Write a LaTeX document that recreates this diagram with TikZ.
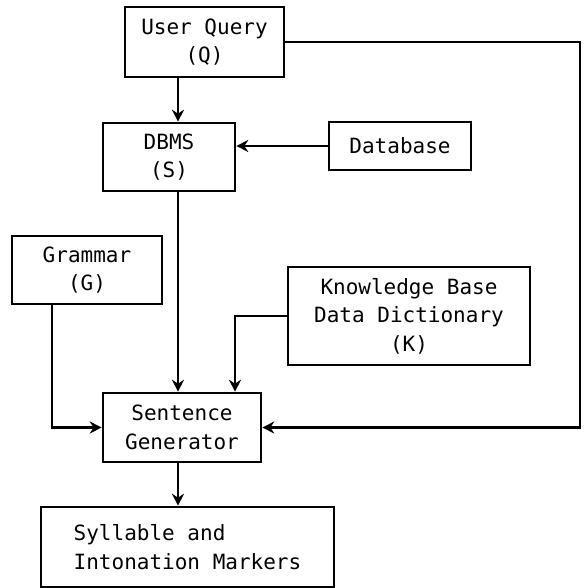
\documentclass[tikz,border=0pt]{standalone}
\usepackage{fontspec}
\setmonofont{DejaVu Sans Mono}
\usetikzlibrary{arrows.meta}

\begin{document}
\begin{tikzpicture}[x=1pt,y=-1pt,line width=2.6pt,>={Stealth[length=12pt,width=12pt,inset=4pt]}]
\useasboundingbox (0,0) rectangle (587,588);
\tikzstyle{blockNode} =
[
	shape			= rectangle,		% shape
	draw			= black,			% colour of the border
	line width		= 2.6pt,			% thickness of the border
	inner sep		= 0pt,				% size comes from minimum width/height
	font			= \ttfamily\fontsize{21}{28.5}\selectfont,	% typewriter text
	align			= center			% centred lines
]
\node (query) [blockNode, minimum width=159pt, minimum height=70pt] at (204.5,42) {User Query\\(Q)};
\node (dbms) [blockNode, minimum width=132pt, minimum height=68pt] at (169,157) {DBMS\\(S)};
\node (database) [blockNode, minimum width=142pt, minimum height=48pt] at (400,146) {Database};
\node (grammar) [blockNode, minimum width=150pt, minimum height=68pt] at (87,270) {Grammar\\(G)};
\node (knowledge) [blockNode, minimum width=242pt, minimum height=98pt] at (409,316) {Knowledge Base\\Data Dictionary\\(K)};
\node (generator) [blockNode, minimum width=158pt, minimum height=69pt] at (182,427.5) {Sentence\\Generator};
\node (markers) [blockNode, minimum width=293pt, minimum height=80pt, align=left] at (187.5,547) {Syllable and\\Intonation Markers};
% vertical lines and feedback loop
\coordinate (spine) at (178,0);
\coordinate (grammarDrop) at (52,0);
\coordinate (kbDrop) at (235,0);
\coordinate (rightEdge) at (580,0);
\draw [->] (query.south -| spine) -- (dbms.north -| spine);
\draw [->] (database.west) -- (database.west -| dbms.east);
\draw [->] (dbms.south -| spine) -- (generator.north -| spine);
\draw [->] (grammar.south -| grammarDrop) |- (generator.west);
\draw [->] (knowledge.west) -| (generator.north -| kbDrop);
\draw [->] (query.east) -- (query.east -| rightEdge) |- (generator.east);
\draw [->] (generator.south -| spine) -- (markers.north -| spine);
\end{tikzpicture}
\end{document}
